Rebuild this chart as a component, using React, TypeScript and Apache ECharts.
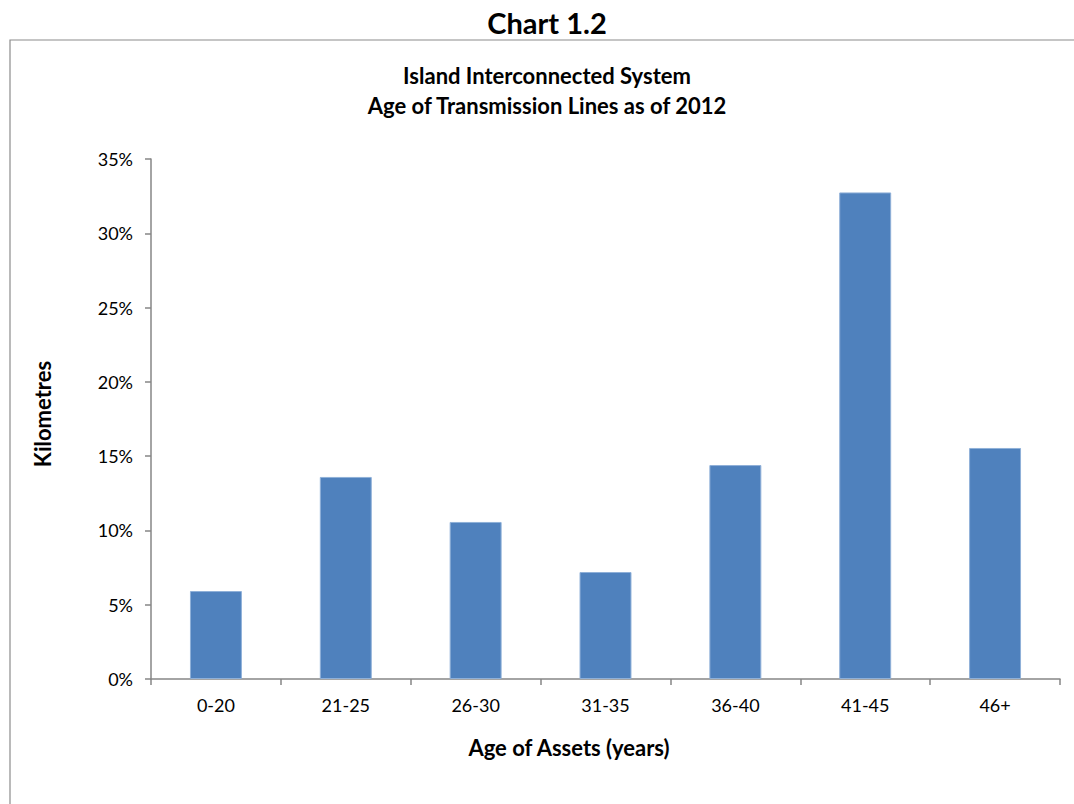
import React, { useEffect, useRef } from "react";
import * as echarts from "echarts";

const categories = ["0-20", "21-25", "26-30", "31-35", "36-40", "41-45", "46+"];
const shares = [5.92, 13.6, 10.57, 7.2, 14.4, 32.75, 15.55];
const yTicks = { min: 0, max: 35, interval: 5 };

const FONT = "Lato, 'Open Sans', sans-serif";

export default function App() {
  const ref = useRef<HTMLDivElement>(null);

  useEffect(() => {
    if (!ref.current) return;
    const chart = echarts.init(ref.current, null, { renderer: "svg" });
    chart.setOption({
      animation: false,
      backgroundColor: "#ffffff",
      textStyle: { fontFamily: FONT },
      grid: { left: 151, right: 14, top: 159, bottom: 125, containLabel: false },
      graphic: [
        {
          type: "rect",
          shape: { x: 10, y: 40, width: 1100, height: 800 },
          style: { fill: "none", stroke: "#8c8c8c", lineWidth: 1.2 },
          silent: true,
        },
        {
          type: "text",
          x: 547,
          y: 22,
          style: {
            text: "Chart 1.2",
            font: `bold 29px ${FONT}`,
            fill: "#000",
            align: "center",
            verticalAlign: "middle",
          },
        },
        {
          type: "text",
          x: 547,
          y: 75,
          style: {
            text: "Island Interconnected System",
            font: `bold 22px ${FONT}`,
            fill: "#000",
            align: "center",
            verticalAlign: "middle",
          },
        },
        {
          type: "text",
          x: 547,
          y: 105,
          style: {
            text: "Age of Transmission Lines as of 2012",
            font: `bold 22px ${FONT}`,
            fill: "#000",
            align: "center",
            verticalAlign: "middle",
          },
        },
        {
          type: "text",
          x: 42,
          y: 414,
          rotation: Math.PI / 2,
          style: {
            text: "Kilometres",
            font: `bold 22px ${FONT}`,
            fill: "#000",
            align: "center",
            verticalAlign: "middle",
          },
        },
        {
          type: "text",
          x: 569,
          y: 747,
          style: {
            text: "Age of Assets (years)",
            font: `bold 22px ${FONT}`,
            fill: "#000",
            align: "center",
            verticalAlign: "middle",
          },
        },
      ],
      xAxis: {
        type: "category",
        data: categories,
        axisLine: { lineStyle: { color: "#868686", width: 1.5 } },
        axisTick: { show: true, length: 6, lineStyle: { color: "#868686", width: 1.5 } },
        axisLabel: { color: "#000", fontSize: 18, margin: 17, fontFamily: FONT },
        splitLine: { show: false },
      },
      yAxis: {
        type: "value",
        min: yTicks.min,
        max: yTicks.max,
        interval: yTicks.interval,
        axisLine: { show: true, lineStyle: { color: "#868686", width: 1.5 } },
        axisTick: { show: true, length: 6, lineStyle: { color: "#868686", width: 1.5 } },
        axisLabel: {
          color: "#000",
          fontSize: 18,
          margin: 18,
          fontFamily: FONT,
          formatter: (v: number) => `${v}%`,
        },
        splitLine: { show: false },
      },
      series: [
        {
          type: "bar",
          data: shares,
          barWidth: "40%",
          itemStyle: { color: "#4F81BD", borderColor: "#8fb0d8", borderWidth: 1 },
        },
      ],
    });
    return () => chart.dispose();
  }, []);

  return (
    <div
      ref={ref}
      style={{ position: "fixed", left: 0, top: 0, width: 1074, height: 804 }}
    />
  );
}
